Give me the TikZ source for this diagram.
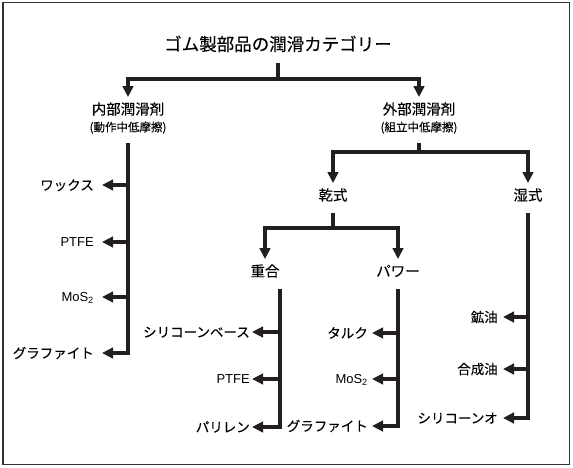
\documentclass[tikz,border=0pt]{standalone}
\usepackage{fontspec}
\setmainfont{Liberation Sans}
\newfontfamily\jp[CharacterWidth=Proportional,FakeBold=0.15]{Noto Sans CJK JP}
\usetikzlibrary{arrows.meta,positioning}
\definecolor{ink}{HTML}{231F20}

\tikzstyle{arrow} = [line width=3.5pt,draw=ink,-{Triangle[length=11pt,width=10.5pt]}]
\tikzstyle{stem} = [line width=3.5pt,draw=ink,shorten <=6pt]
\tikzstyle{frame} = [line width=1.2pt,draw=black!80]
\tikzstyle{head} = [
        font=\jp\fontsize{17.5pt}{20pt}\selectfont,
        inner xsep=0pt,
        inner ysep=5pt,
        text height=14.7pt,
        text depth=1.4pt
    ]
\tikzstyle{cat} = [
        font=\jp\fontsize{14.5pt}{16pt}\selectfont,
        inner xsep=0pt,
        inner ysep=5pt,
        text height=12.2pt,
        text depth=1.2pt
    ]
\tikzstyle{sub} = [
        font=\jp\fontsize{11.5pt}{13pt}\selectfont,
        inner xsep=0pt,
        inner ysep=5pt,
        text height=9.7pt,
        text depth=0.9pt
    ]
\tikzstyle{leaf} = [
        font=\jp\fontsize{13.5pt}{16pt}\selectfont,
        anchor=east,
        inner ysep=0pt,
        inner xsep=4pt,
        text height=11.4pt,
        text depth=1.1pt
    ]
\tikzstyle{leaflat} = [
        leaf,
        font=\fontsize{13pt}{15pt}\selectfont,
        text height=9.3pt,
        text depth=0pt
    ]

\begin{document}
\begin{tikzpicture}[x=1pt,y=-1pt]
        \useasboundingbox (0,0) rectangle (573,468);
        \draw [frame] (3,2.5) rectangle (569.5,464.5);
        % categories
        \node [head] (title) at (278,44) {ゴム製部品の潤滑カテゴリー};
        \node [cat] (inner) at (128,109) {内部潤滑剤};
        \node [sub] (innersub) at (128,127) {(動作中低摩擦)};
        \node [cat] (outer) at (419,109) {外部潤滑剤};
        \node [sub] (outersub) at (419,127) {(組立中低摩擦)};
        \node [cat] (dry) at (333,195) {乾式};
        \node [cat] (wet) at (528,195) {湿式};
        \node [cat] (poly) at (265,271) {重合};
        \node [cat] (powder) at (398,271) {パワー};
        \coordinate (j0) at (278,79);
        \coordinate (j1) at (419,152);
        \coordinate (j2) at (333,228);
        \draw [stem] (title.south) -- (j0);
        \draw [arrow] (j0) -| (inner.north);
        \draw [arrow] (j0) -| (outer.north);
        \draw [stem] (outersub.south) -- (j1);
        \draw [arrow] (j1) -| (dry.north);
        \draw [arrow] (j1) -| (wet.north);
        \draw [stem] (dry.south) -- (j2);
        \draw [arrow] (j2) -| (poly.north);
        \draw [arrow] (j2) -| (powder.north);
        % internal lubricants
        \node [leaf, inner xsep=8pt] (wax) at (102,185) {ワックス};
        \node [leaflat, inner xsep=8pt] (ptfe1) at (102,242) {PTFE};
        \node [leaflat, inner xsep=8pt] (mos1) at (102,297) {MoS\textsubscript{2}};
        \node [leaf, inner xsep=8pt] (graph1) at (102,353) {グラファイト};
        \draw [arrow, shorten <=6pt] (innersub.south) |- (graph1.east);
        \draw [arrow] (innersub.south |- wax.east) -- (wax.east);
        \draw [arrow] (innersub.south |- ptfe1.east) -- (ptfe1.east);
        \draw [arrow] (innersub.south |- mos1.east) -- (mos1.east);
        % polymer
        \node [leaf, inner xsep=2pt] (silbase) at (252,332) {シリコーンベース};
        \node [leaflat, inner xsep=2pt] (ptfe2) at (252,379) {PTFE};
        \node [leaf, inner xsep=2pt] (parylene) at (252,427) {パリレン};
        \draw [arrow, shorten <=6pt] ([xshift=15pt]poly.south) |- (parylene.east);
        \draw [arrow] ([xshift=15pt]poly.south |- silbase.east) -- (silbase.east);
        \draw [arrow] ([xshift=15pt]poly.south |- ptfe2.east) -- (ptfe2.east);
        % powder
        \node [leaf] (talc) at (372,333) {タルク};
        \node [leaflat] (mos2) at (372,379) {MoS\textsubscript{2}};
        \node [leaf] (graph2) at (372,426) {グラファイト};
        \draw [arrow, shorten <=6pt] (powder.south) |- (graph2.east);
        \draw [arrow] (powder.south |- talc.east) -- (talc.east);
        \draw [arrow] (powder.south |- mos2.east) -- (mos2.east);
        % wet
        \node [leaf, inner xsep=5pt] (mineral) at (503,317) {鉱油};
        \node [leaf, inner xsep=5pt] (synth) at (503,369) {合成油};
        \node [leaf, inner xsep=5pt] (siloil) at (503,418) {シリコーンオ};
        \draw [arrow, shorten <=6pt] (wet.south) |- (siloil.east);
        \draw [arrow] (wet.south |- mineral.east) -- (mineral.east);
        \draw [arrow] (wet.south |- synth.east) -- (synth.east);
    \end{tikzpicture}
\end{document}
